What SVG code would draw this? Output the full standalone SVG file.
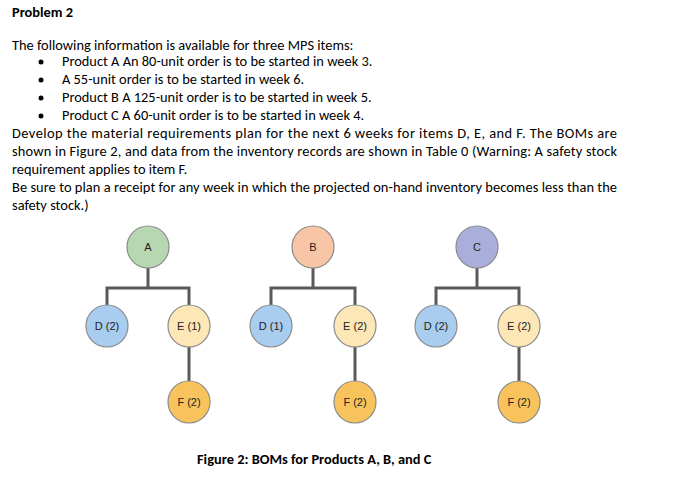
<svg xmlns="http://www.w3.org/2000/svg" width="700" height="481" viewBox="0 0 700 481">
<style>
.t{font-family:Calibri,"Liberation Sans",sans-serif;font-size:14.4px;fill:#000}
.b{font-weight:bold}
.n{stroke:#8a8a8a;stroke-width:1.2}
.l{font-family:"Liberation Sans",sans-serif;font-size:11px;fill:#222;text-anchor:middle}
.c{stroke:#5a5a5a;stroke-width:3;fill:none}
</style>
<rect width="700" height="481" fill="#fff"/>
<text class="t b" x="12" y="17">Problem 2</text>
<text class="t" x="12" y="50">The following information is available for three MPS items:</text>
<g class="t">
<circle cx="41" cy="62" r="2.5"/><text x="62" y="66">Product A An 80-unit order is to be started in week 3.</text>
<circle cx="41" cy="80" r="2.5"/><text x="62" y="84">A 55-unit order is to be started in week 6.</text>
<circle cx="41" cy="98" r="2.5"/><text x="62" y="102">Product B A 125-unit order is to be started in week 5.</text>
<circle cx="41" cy="116" r="2.5"/><text x="62" y="120">Product C A 60-unit order is to be started in week 4.</text>
</g>
<text class="t" x="12" y="138" textLength="605">Develop the material requirements plan for the next 6 weeks for items D, E, and F. The BOMs are</text>
<text class="t" x="12" y="156" textLength="605">shown in Figure 2, and data from the inventory records are shown in Table 0 (Warning: A safety stock</text>
<text class="t" x="12" y="174">requirement applies to item F.</text>
<text class="t" x="12" y="192" textLength="605">Be sure to plan a receipt for any week in which the projected on-hand inventory becomes less than the</text>
<text class="t" x="12" y="210">safety stock.)</text>
<g id="connectors" class="c">
<path d="M148 268V288M107 305V288H189V305M189 347V381"/>
<path d="M313 268V288M271 305V288H355V305M355 347V381"/>
<path d="M477 268V288M436 305V288H519V305M519 347V381"/>
</g>
<g id="A"><circle class="n" cx="148" cy="247" r="21" fill="#b6d7b1"/><text class="l" x="148" y="251">A</text></g>
<g id="B"><circle class="n" cx="313" cy="247" r="21" fill="#f8c6a6"/><text class="l" x="313" y="251">B</text></g>
<g id="C"><circle class="n" cx="477" cy="247" r="21" fill="#a9aedb"/><text class="l" x="477" y="251">C</text></g>
<g id="DA"><circle class="n" cx="107" cy="326" r="21" fill="#a9cdef"/><text class="l" x="107" y="330">D (2)</text></g>
<g id="EA"><circle class="n" cx="189" cy="326" r="21" fill="#fde7b7"/><text class="l" x="189" y="330">E (1)</text></g>
<g id="FA"><circle class="n" cx="189" cy="402" r="21" fill="#f8c35c"/><text class="l" x="189" y="406">F (2)</text></g>
<g id="DB"><circle class="n" cx="271" cy="326" r="21" fill="#a9cdef"/><text class="l" x="271" y="330">D (1)</text></g>
<g id="EB"><circle class="n" cx="355" cy="326" r="21" fill="#fde7b7"/><text class="l" x="355" y="330">E (2)</text></g>
<g id="FB"><circle class="n" cx="355" cy="402" r="21" fill="#f8c35c"/><text class="l" x="355" y="406">F (2)</text></g>
<g id="DC"><circle class="n" cx="436" cy="326" r="21" fill="#a9cdef"/><text class="l" x="436" y="330">D (2)</text></g>
<g id="EC"><circle class="n" cx="519" cy="326" r="21" fill="#fde7b7"/><text class="l" x="519" y="330">E (2)</text></g>
<g id="FC"><circle class="n" cx="519" cy="402" r="21" fill="#f8c35c"/><text class="l" x="519" y="406">F (2)</text></g>
<text class="t b" x="197" y="464">Figure 2: BOMs for Products A, B, and C</text>
</svg>
